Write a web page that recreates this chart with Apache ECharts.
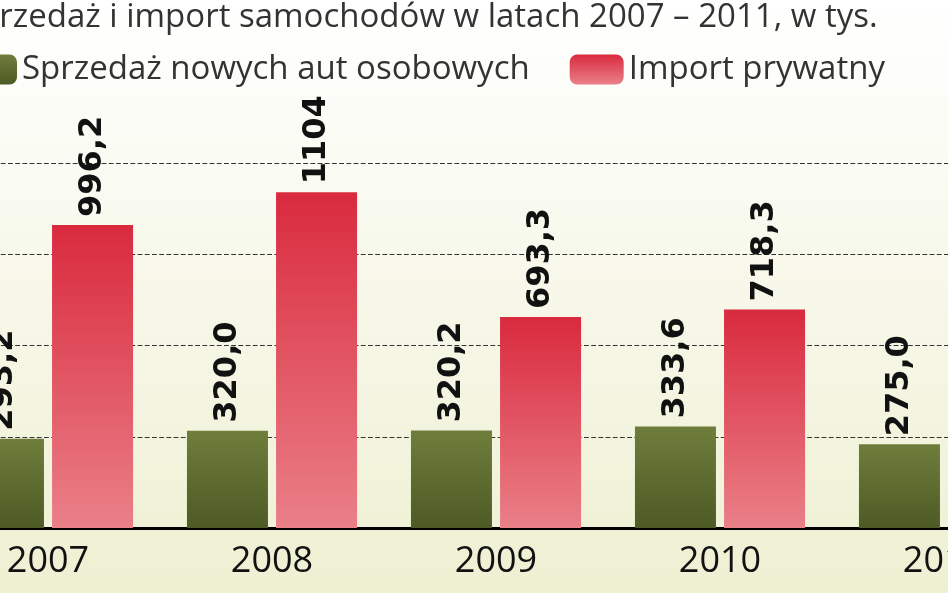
<!DOCTYPE html><html><head><meta charset="utf-8"><script src="https://cdn.jsdelivr.net/npm/echarts@6/dist/echarts.min.js"></script>
<style>html,body{margin:0;padding:0}#c{width:948px;height:593px}</style></head><body><div id="c"></div><script>
const years=['2007','2008','2009','2010','2011'];
const sales=[293.2,320.0,320.2,333.6,275.0];
const imports=[996.2,1104,693.3,718.3,null];
const fmt=v=>v.value==null?'':(v.value===1104?'1104':v.value.toFixed(1).replace('.',','));
const chart=echarts.init(document.getElementById('c'));
const lbl={show:true,position:'top',rotate:90,align:'left',verticalAlign:'middle',distance:8,formatter:fmt,fontFamily:'DejaVu Sans',fontWeight:'bold',fontSize:32,color:'#111'};
chart.setOption({
 backgroundColor:{type:'linear',x:0,y:0,x2:0,y2:1,colorStops:[{offset:0,color:'#ffffff'},{offset:1,color:'#eef0d2'}]},
 title:{text:'Sprzedaż i import samochodów w latach 2007 – 2011, w tys.',left:-44,top:-4,textStyle:{fontFamily:'Open Sans',fontWeight:'normal',fontSize:33,color:'#333'}},
 legend:{left:-42,top:48,itemWidth:54,itemHeight:30,itemGap:40,icon:'roundRect',textStyle:{fontFamily:'Open Sans',fontSize:33,color:'#333'},data:['Sprzedaż nowych aut osobowych','Import prywatny']},
 grid:{left:-64,right:-108,top:163,bottom:65,outerBoundsMode:'none',containLabel:false},
 xAxis:{type:'category',data:years,axisTick:{show:false},axisLine:{lineStyle:{color:'#000',width:3}},axisLabel:{fontFamily:'Open Sans',fontSize:36,color:'#111',margin:16}},
 yAxis:{type:'value',min:0,max:1200,interval:300,axisLabel:{show:false},splitLine:{lineStyle:{type:'dashed',color:'#333',width:1.2}}},
 series:[
 {name:'Sprzedaż nowych aut osobowych',type:'bar',data:sales,barWidth:81,barGap:'10%',
  itemStyle:{color:{type:'linear',x:0,y:0,x2:0,y2:1,colorStops:[{offset:0,color:'#6f7d3c'},{offset:1,color:'#4d5a24'}]}},label:lbl},
 {name:'Import prywatny',type:'bar',data:imports,barWidth:81,
  itemStyle:{color:{type:'linear',x:0,y:0,x2:0,y2:1,colorStops:[{offset:0,color:'#d92a3e'},{offset:1,color:'#ea8088'}]}},label:lbl}
 ]
});
</script></body></html>
